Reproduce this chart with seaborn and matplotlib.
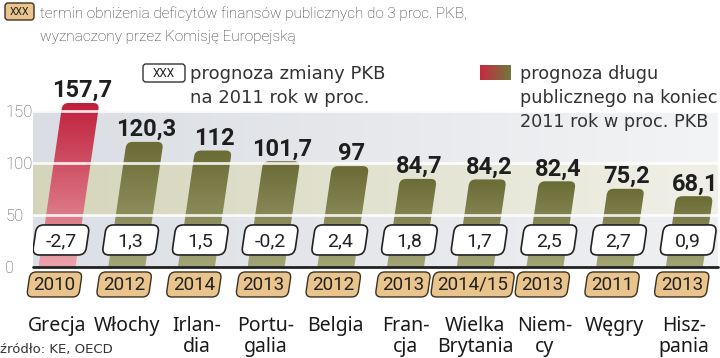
import numpy as np
import pandas as pd
import seaborn as sns
import matplotlib.pyplot as plt
import matplotlib.transforms as mtransforms
from matplotlib.patches import FancyBboxPatch
from matplotlib.colors import LinearSegmentedColormap
from matplotlib import font_manager

# dane
kraje = ["Grecja", "Włochy", "Irlan-\ndia", "Portu-\ngalia", "Belgia",
         "Fran-\ncja", "Wielka\nBrytania", "Niem-\ncy", "Węgry", "Hisz-\npania"]
dlug = [157.7, 120.3, 112, 101.7, 97, 84.7, 84.2, 82.4, 75.2, 68.1]
zmiana_pkb = [-2.7, 1.3, 1.5, -0.2, 2.4, 1.8, 1.7, 2.5, 2.7, 0.9]
termin = ["2010", "2012", "2014", "2013", "2012", "2013", "2014/15", "2013", "2011", "2013"]

df = pd.DataFrame({"kraj": kraje, "dlug": dlug, "pkb": zmiana_pkb, "termin": termin})


def pl(v):
    return f"{v:g}".replace(".", ",")


sns.set_theme(style="white")
plt.rcParams["font.family"] = ["DejaVu Sans"]

names = {f.name for f in font_manager.fontManager.ttflist}
NARROW = "Roboto" if "Roboto" in names else "DejaVu Sans"
SANS = "Noto Sans" if "Noto Sans" in names else "DejaVu Sans"

W, H = 720, 358
fig = plt.figure(figsize=(7.2, 3.58), dpi=100)
pix = mtransforms.Affine2D().scale(1, -1).translate(0, H)  # piksele od lewego gornego rogu

# geometria osi
x0px, x1px, y0px = 33, 718, 267
pxu = 1.04      # pikseli na jednostke
step = 69.7     # pikseli na kategorie
ymax = 160
ax = fig.add_axes([x0px / W, (H - y0px) / H, (x1px - x0px) / W, ymax * pxu / H])
xmin, xmax = -(57 - x0px) / step, (x1px - 57) / step

k = 0.146 * pxu / step  # pochylenie slupkow
skew = mtransforms.Affine2D(np.array([[1, k, 0], [0, 1, 0], [0, 0, 1]]))

red_top, red_bot = "#bf1f3b", "#eba3ab"
oli_top, oli_bot = "#6a6b35", "#a4a576"
red_cmap = LinearSegmentedColormap.from_list("r", [red_bot, red_top])
oli_cmap = LinearSegmentedColormap.from_list("o", [oli_bot, oli_top])

# tla pasow
hgrad = np.linspace(0, 1, 256).reshape(1, -1)
bands = [(0, 50, ["#dcdfe5", "#eff0f2"]), (50, 100, ["#d5d5bb", "#f0f0e8"]),
         (100, 150, ["#dadde3", "#f3f4f5"])]
for lo, hi, cols in bands:
    ax.imshow(hgrad, cmap=LinearSegmentedColormap.from_list("b", cols),
              extent=[xmin, xmax, lo, hi], aspect="auto", zorder=0)

palette = [red_top] + [oli_top] * (len(kraje) - 1)
sns.barplot(data=df, x="kraj", y="dlug", hue="kraj", palette=palette, legend=False,
            width=0.53, saturation=1, ax=ax, zorder=2)

vgrad = np.linspace(0, 1, 256).reshape(-1, 1)
for i, (p, v) in enumerate(zip(ax.patches, dlug)):
    p.set_transform(skew + ax.transData)
    p.set_facecolor("none")
    p.set_edgecolor("none")
    bx, bw, h = p.get_x(), p.get_width(), p.get_height()
    shape = FancyBboxPatch((bx, -10), bw, h + 10,
                           boxstyle=f"round,pad=0,rounding_size={6 / step}",
                           mutation_aspect=step / pxu, transform=skew + ax.transData)
    im = ax.imshow(vgrad, cmap=red_cmap if i == 0 else oli_cmap, origin="lower",
                   extent=[bx, bx + bw + k * h, 0, h], aspect="auto", zorder=2)
    im.set_clip_path(shape)
    ax.text(i + k * (v + 6), v + 5.5, pl(v), ha="center", va="baseline",
            fontsize=17, fontweight="bold", family=NARROW, color="#1e1e1e", zorder=5)

for yv in [50, 100, 150]:
    ax.axhline(yv, color="white", lw=2, alpha=0.85, zorder=2.5)

# prognoza zmiany PKB
bw_box, bh_box, yc = 53 / step, 30 / pxu, 26
for i, g in enumerate(zmiana_pkb):
    box = FancyBboxPatch((i - bw_box / 2, yc - bh_box / 2), bw_box, bh_box,
                         boxstyle=f"round,pad=0,rounding_size={7 / step}",
                         mutation_aspect=step / pxu, facecolor="white",
                         edgecolor="#222222", lw=1.2, zorder=3,
                         transform=skew + ax.transData)
    ax.add_patch(box)
    ax.text(i + k * yc, yc - 1, pl(g), ha="center", va="center", fontsize=14,
            family=NARROW, color="#222222", zorder=4)

ax.axhline(0, color="#222222", lw=2, zorder=4, clip_on=False)

# termin obnizenia deficytu
renderer = fig.canvas.get_renderer()
ty, th = -16.8, 25 / pxu
for i, t in enumerate(termin):
    txt = ax.text(i + k * ty, ty - 0.5, t, ha="center", va="center", fontsize=13.5,
                  family=NARROW, color="#222222", zorder=4, clip_on=False)
    tw = txt.get_window_extent(renderer).width
    bwy = (tw + 10) / step
    box = FancyBboxPatch((i - bwy / 2, ty - th / 2), bwy, th,
                         boxstyle=f"round,pad=0,rounding_size={6 / step}",
                         mutation_aspect=step / pxu, facecolor="#e9c48c",
                         edgecolor="#3a3122", lw=1, zorder=3, clip_on=False,
                         transform=skew + ax.transData)
    ax.add_patch(box)

# nazwy krajow
for i, name in enumerate(kraje):
    for j, line in enumerate(name.split("\n")):
        ax.text(i, (y0px - 331 - 21 * j) / pxu, line, ha="center", va="baseline",
                fontsize=14, family=SANS, color="#1a1a1a", clip_on=False)

ax.set_xlim(xmin, xmax)
ax.set_ylim(0, ymax)
ax.set_yticks([0, 50, 100, 150])
ax.set_yticklabels(["0", "50", "100", "150"], family=NARROW, fontsize=12,
                   fontweight="light", color="#555555")
for lab in ax.get_yticklabels():
    lab.set_horizontalalignment("left")
ax.tick_params(axis="y", length=0, pad=20)
ax.tick_params(axis="x", bottom=False, labelbottom=False)
ax.set_xlabel("")
ax.set_ylabel("")
for s in ax.spines.values():
    s.set_visible(False)

# naglowek
fig.patches.append(FancyBboxPatch((5, 3), 29, 17, boxstyle="round,pad=0,rounding_size=3",
                                  facecolor="#e9c48c", edgecolor="#3a3122", lw=1,
                                  transform=pix, figure=fig))
fig.text(19.5, 12, "XXX", transform=pix, ha="center", va="center", fontsize=7.5,
         family=NARROW, color="#222222")
fig.text(40, 18, "termin obniżenia deficytów finansów publicznych do 3 proc. PKB,",
         transform=pix, fontsize=11.1, family=NARROW, fontweight="light",
         color="#333333", va="baseline")
fig.text(40, 41, "wyznaczony przez Komisję Europejską",
         transform=pix, fontsize=11.1, family=NARROW, fontweight="light",
         color="#333333", va="baseline")

# legenda
fig.patches.append(FancyBboxPatch((143, 64), 42, 18, boxstyle="round,pad=0,rounding_size=3",
                                  facecolor="white", edgecolor="#333333", lw=1,
                                  transform=pix, figure=fig))
fig.text(164, 73.5, "XXX", transform=pix, ha="center", va="center", fontsize=8.5,
         family=NARROW, color="#222222")
fig.text(190, 79, "prognoza zmiany PKB", transform=pix, fontsize=13, color="#333333", va="baseline")
fig.text(190, 103, "na 2011 rok w proc.", transform=pix, fontsize=13, color="#333333", va="baseline")

lax = fig.add_axes([480 / W, 1 - 80 / H, 31 / W, 15 / H])
lax.imshow(hgrad, cmap=LinearSegmentedColormap.from_list("l", ["#c8283f", "#6f7a3c"]),
           aspect="auto")
lax.axis("off")
fig.text(520, 79, "prognoza długu", transform=pix, fontsize=12.7, color="#333333", va="baseline")
fig.text(520, 103, "publicznego na koniec", transform=pix, fontsize=12.7, color="#333333", va="baseline")
fig.text(520, 127, "2011 rok w proc. PKB", transform=pix, fontsize=12.7, color="#333333", va="baseline")

fig.text(0, 353, "źródło: KE, OECD", transform=pix, fontsize=9.5, color="#333333", va="baseline")

fig.savefig("out.png", dpi=100)
